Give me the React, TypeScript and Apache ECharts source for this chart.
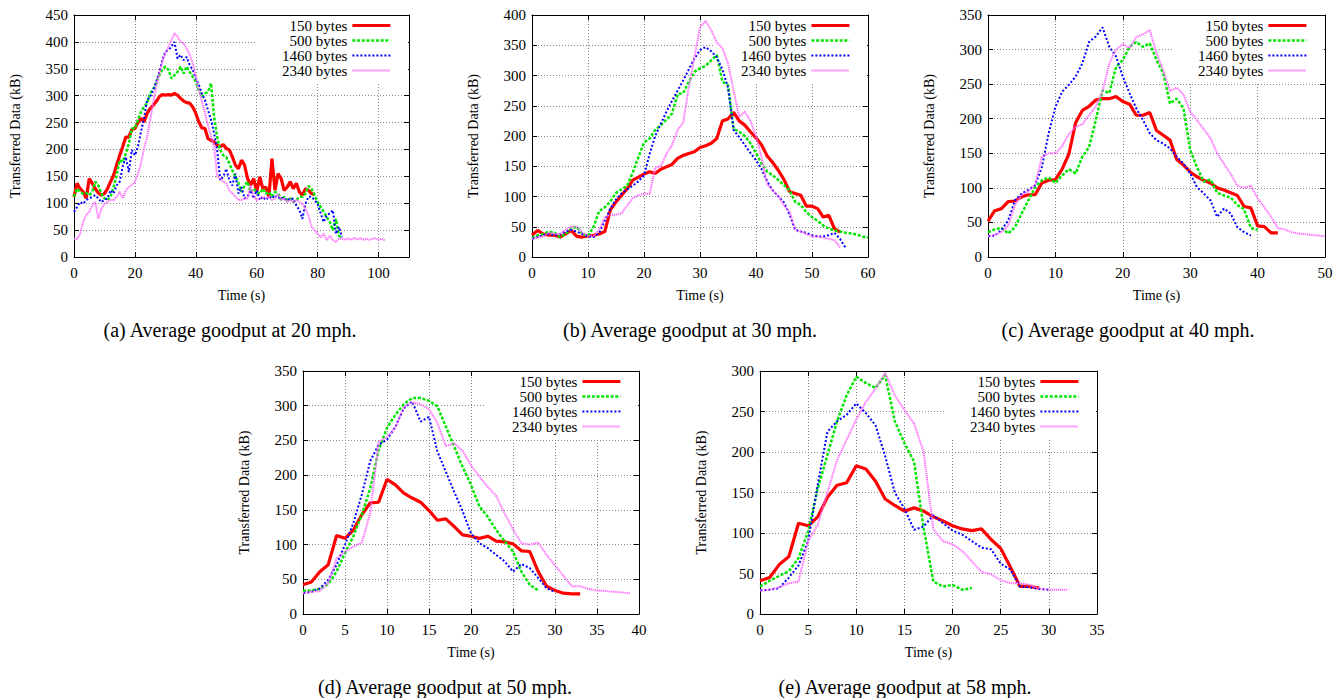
import React, { useEffect, useRef } from "react";
import * as echarts from "echarts";

const FONT = "Liberation Serif, Times New Roman, Times, serif";

const seriesNames = ["150 bytes", "500 bytes", "1460 bytes", "2340 bytes"];

// (a) 20 mph
const a150 = [112,137,127,121,109,146,137,127,119,115,118,127,140,152,171,189,205,223,223,237,239,250,258,251,267,276,282,289,298,302,301,302,301,304,301,295,290,287,286,279,267,251,240,239,220,217,214,208,205,209,202,199,186,171,164,180,171,146,133,146,121,149,127,130,112,183,124,155,146,124,130,140,127,137,121,115,127,124,118,116];
const a500 = [112,127,121,118,119,115,121,140,133,118,109,106,112,130,152,180,177,192,211,239,239,255,270,279,286,304,312,323,338,348,354,348,332,338,344,354,341,354,344,335,326,310,298,304,307,323,261,223,199,189,186,174,161,149,138,121,133,140,121,127,121,118,127,118,121,112,121,118,106,112,106,109,102,106,112,112,118,132,127,115,102,93,84,74,65,50,71,40,34];
const a1460 = [84,93,102,99,106,109,112,115,109,102,106,109,124,118,133,140,168,186,158,199,189,205,233,258,292,298,310,326,344,366,382,385,391,400,369,376,366,372,357,348,332,320,304,292,273,255,230,199,143,149,164,143,133,155,118,130,109,112,124,109,124,106,112,106,112,109,115,109,112,106,109,106,109,96,87,71,99,112,112,106,99,81,65,78,81,87,43,56,37];
const a2340 = [34,34,43,65,78,84,96,102,71,90,99,102,106,106,112,121,109,124,130,133,140,155,174,202,223,255,286,317,341,363,379,391,403,416,410,400,397,388,376,360,335,310,290,268,245,225,205,150,146,140,137,124,118,112,106,106,109,109,133,112,106,109,112,109,112,106,109,118,106,109,102,106,102,106,102,99,90,78,56,50,43,37,43,31,40,31,28,34,34,32,34,32,36,32,35,32,34,32,34,35,32,34,31];

// (b) 30 mph
const b150 = [36,44,38,36,36,33,38,44,34,33,35,36,38,42,78,91,102,113,127,132,137,141,138,145,149,153,163,168,171,174,181,184,188,196,225,228,239,225,218,207,197,185,167,156,143,128,108,105,102,84,84,80,66,69,47,41];
const b500 = [32,36,38,42,40,33,38,47,50,38,35,50,76,82,92,106,112,118,140,165,189,196,210,218,227,237,269,271,290,306,312,316,325,334,290,284,212,207,200,188,172,154,141,135,127,119,110,91,86,74,66,60,52,47,44,42,40,39,37,34,32];
const b1460 = [30,33,36,38,36,38,42,45,42,38,34,33,40,60,80,95,105,112,118,125,135,170,200,220,240,258,275,292,310,328,342,347,340,330,310,280,210,198,185,172,160,145,125,110,100,90,70,45,42,40,36,34,34,36,40,30,15];
const b2340 = [30,32,34,40,38,38,45,50,50,40,35,35,45,65,70,70,72,85,97,102,105,104,148,150,170,185,210,222,280,330,380,390,375,355,345,320,275,232,240,225,200,165,120,110,100,85,75,45,42,38,34,34,32,30,28,16];

// (c) 40 mph
const c150 = [52,67,70,80,81,87,90,90,107,111,112,127,149,194,212,218,227,229,229,232,225,221,205,205,209,183,176,169,141,133,123,116,111,107,100,97,93,89,73,71,45,44,35,35];
const c500 = [36,40,42,34,43,63,82,101,111,115,107,118,127,121,145,159,198,241,237,275,285,304,311,304,309,285,266,222,229,215,155,130,109,112,93,89,86,75,69,42,39];
const c1460 = [30,31,39,53,82,92,97,104,130,179,217,239,249,261,280,311,319,332,304,290,261,237,215,198,179,169,164,157,145,135,121,101,92,82,58,70,63,43,36,31];
const c2340 = [30,32,36,45,75,90,95,105,145,150,150,160,178,188,192,205,218,240,280,300,308,302,318,322,328,295,270,240,245,235,210,198,185,172,150,135,120,103,100,103,85,72,58,42,40,36,34,33,32,31,30];

// (d) 50 mph
const d150 = [42,46,61,71,113,109,121,143,160,161,194,186,174,167,161,149,135,137,126,114,112,109,112,105,104,101,91,90,61,40,34,30,29,29];
const d500 = [33,34,36,43,61,88,112,143,181,236,268,287,302,311,311,307,299,270,241,212,186,155,140,121,105,90,61,42,34];
const d1460 = [30,32,37,49,71,100,131,172,220,244,251,270,296,306,277,284,234,205,176,148,116,102,95,85,76,61,72,66,52,37,32];
const d2340 = [30,32,33,45,80,90,97,103,145,248,255,268,298,305,302,295,275,242,246,235,214,198,183,170,145,122,102,100,103,85,70,55,40,40,36,34,33,32,31,30];

// (e) 58 mph
const e150 = [41,45,61,71,112,109,120,144,159,162,183,179,164,142,134,127,131,127,120,115,109,105,103,105,92,81,58,34,34,32];
const e500 = [34,41,47,53,69,102,155,196,238,270,293,285,279,295,238,211,188,106,40,34,36,30,32];
const e1460 = [29,30,32,45,60,90,160,225,238,246,260,248,233,195,150,130,104,108,122,112,103,98,90,82,80,62,55,34,33,31,30];
const e2340 = [29,30,33,38,40,90,110,150,190,215,240,262,278,298,270,252,235,200,105,90,86,78,65,52,49,42,38,38,36,31,30,30,30];

const captions = [
  "(a) Average goodput at 20 mph.",
  "(b) Average goodput at 30 mph.",
  "(c) Average goodput at 40 mph.",
  "(d) Average goodput at 50 mph.",
  "(e) Average goodput at 58 mph.",
];
const panelData = [
  [a150, a500, a1460, a2340],
  [b150, b500, b1460, b2340],
  [c150, c500, c1460, c2340],
  [d150, d500, d1460, d2340],
  [e150, e500, e1460, e2340],
];
const xMaxes = [110, 60, 50, 40, 35];
const xIntervals = [20, 10, 10, 5, 5];
const yMaxes = [450, 400, 350, 350, 300];
const yInterval = 50;

// layout (pixels)
const layout = [
  { left: 74, top: 15, width: 335, height: 242, capX: 230, capY: 330 },
  { left: 532, top: 15, width: 336, height: 242, capX: 690, capY: 330 },
  { left: 988, top: 15, width: 337, height: 242, capX: 1128, capY: 330 },
  { left: 303, top: 371, width: 336, height: 243, capX: 445, capY: 687 },
  { left: 760, top: 371, width: 337, height: 243, capX: 905, capY: 687 },
];
const lineStyles = [
  { color: "#ff0000", width: 3.2, type: "solid" as any },
  { color: "#00e600", width: 2.5, type: [3, 1.7] as any },
  { color: "#0000ff", width: 2, type: [2, 2] as any },
  { color: "#ff66ff", width: 2, type: [1.2, 0.8] as any },
];

const W = 1343;
const H = 698;

function buildOption() {
  const grid: any[] = [];
  const xAxis: any[] = [];
  const yAxis: any[] = [];
  const series: any[] = [];
  const legend: any[] = [];
  const graphic: any[] = [];
  const axisLineStyle = { color: "#000", width: 1 };
  const splitStyle = { color: "#888", type: [1, 2], width: 1 };
  layout.forEach((p, i) => {
    grid.push({ left: p.left, top: p.top, width: p.width, height: p.height });
    xAxis.push({
      gridIndex: i, type: "value", position: "bottom", min: 0, max: xMaxes[i], interval: xIntervals[i],
      name: "Time (s)", nameLocation: "middle", nameGap: 31,
      nameTextStyle: { fontFamily: FONT, fontSize: 14, color: "#000" },
      axisLine: { show: true, onZero: false, lineStyle: axisLineStyle },
      axisTick: { show: true, inside: true, length: 5, lineStyle: axisLineStyle },
      axisLabel: { margin: 8, fontFamily: FONT, fontSize: 15, color: "#000", showMaxLabel: xMaxes[i] % xIntervals[i] === 0 },
      splitLine: { show: true, lineStyle: splitStyle },
    });
    xAxis.push({
      gridIndex: i, type: "value", position: "top", min: 0, max: xMaxes[i], interval: xIntervals[i],
      axisLine: { show: true, onZero: false, lineStyle: axisLineStyle },
      axisTick: { show: true, inside: true, length: 5, lineStyle: axisLineStyle },
      axisLabel: { show: false }, splitLine: { show: false },
    });
    yAxis.push({
      gridIndex: i, type: "value", position: "left", min: 0, max: yMaxes[i], interval: yInterval,
      name: "Transferred Data (kB)", nameLocation: "middle", nameGap: 52,
      nameTextStyle: { fontFamily: FONT, fontSize: 14, color: "#000" },
      axisLine: { show: true, onZero: false, lineStyle: axisLineStyle },
      axisTick: { show: true, inside: true, length: 5, lineStyle: axisLineStyle },
      axisLabel: { margin: 6, fontFamily: FONT, fontSize: 15, color: "#000" },
      splitLine: { show: true, lineStyle: splitStyle },
    });
    yAxis.push({
      gridIndex: i, type: "value", position: "right", min: 0, max: yMaxes[i], interval: yInterval,
      axisLine: { show: true, onZero: false, lineStyle: axisLineStyle },
      axisTick: { show: true, inside: true, length: 5, lineStyle: axisLineStyle },
      axisLabel: { show: false }, splitLine: { show: false },
    });
    panelData[i].forEach((vals, k) => {
      series.push({
        type: "line", name: seriesNames[k], xAxisIndex: 2 * i, yAxisIndex: 2 * i,
        data: vals.map((v, t) => [t, v]),
        symbol: "none", showSymbol: false, silent: true, z: 2 + k * 0.1,
        lineStyle: { ...lineStyles[k] }, itemStyle: { color: lineStyles[k].color },
      });
    });
    legend.push({
      data: seriesNames, orient: "vertical", align: "right",
      right: W - (p.left + p.width) + 1, top: p.top + 1,
      itemWidth: 38, itemHeight: 14, itemGap: 0,
      padding: [2, 16, 4, 26], backgroundColor: "#fff", z: 1,
      selectedMode: false,
      itemStyle: { opacity: 0, borderWidth: 0 },
      lineStyle: { width: "inherit" },
      textStyle: { fontFamily: FONT, fontSize: 15, color: "#000" },
    });
    graphic.push({
      type: "text", x: p.capX, y: p.capY,
      style: { text: captions[i], fontFamily: FONT, fontSize: 20, fill: "#000", align: "center", verticalAlign: "middle" },
    });
  });
  return {
    animation: false, backgroundColor: "#fff",
    textStyle: { fontFamily: FONT },
    grid, xAxis, yAxis, series, legend, graphic,
  };
}

export default function App() {
  const ref = useRef<HTMLDivElement>(null);
  useEffect(() => {
    if (!ref.current) return;
    const chart = echarts.init(ref.current, undefined, { renderer: "svg", width: W, height: H });
    chart.setOption(buildOption() as any);
    return () => chart.dispose();
  }, []);
  return <div ref={ref} style={{ position: "absolute", left: 0, top: 0, width: W, height: H, background: "#fff" }} />;
}
